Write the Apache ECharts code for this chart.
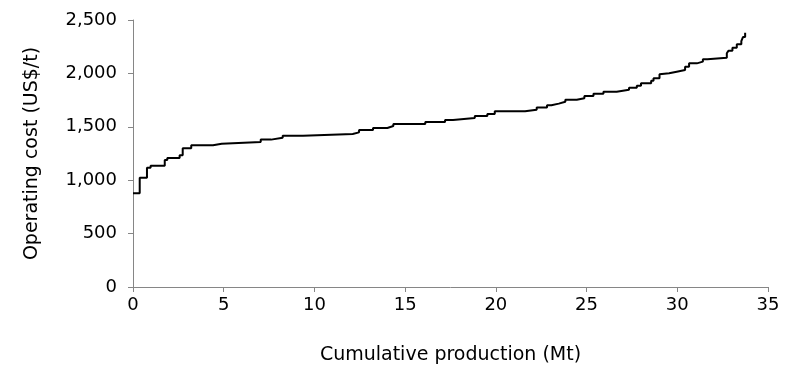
<!DOCTYPE html>
<html>
<head>
<meta charset="utf-8">
<script src="https://cdn.jsdelivr.net/npm/echarts@6/dist/echarts.min.js"></script>
<style>
html,body{margin:0;padding:0;background:#fff;}
#chart{width:797px;height:374px;}
</style>
</head>
<body>
<div id="chart"></div>
<script>
// Cumulative production at the start of each step (Mt)
var production = [0, 0.37, 0.77, 0.97, 1.75, 1.89, 2.57, 2.74, 3.21, 4.41, 4.89, 7.04, 7.61, 8.25, 9.37,
  12.11, 12.46, 13.23, 14.02, 14.35, 16.11, 17.2, 17.64, 18.84, 19.53, 19.94, 21.61, 22.25, 22.82, 23.06,
  23.47, 23.83, 24.46, 24.88, 25.38, 25.93, 26.66, 27.34, 27.77, 28.0, 28.56, 28.69, 29.02, 29.11, 29.55,
  29.97, 30.43, 30.65, 31.08, 31.41, 31.66, 32.73, 32.82, 33.04, 33.28, 33.53, 33.62, 33.74];
// Operating cost of each step (US$/t)
var cost = [877, 1023, 1117, 1136, 1189, 1208, 1233, 1299, 1327, 1342, 1358, 1380, 1398, 1417, 1433,
  1448, 1470, 1489, 1507, 1526, 1545, 1564, 1582, 1601, 1620, 1645, 1660, 1680, 1701, 1717,
  1735, 1754, 1767, 1788, 1810, 1829, 1847, 1866, 1885, 1907, 1932, 1954, 1992, 2001, 2016,
  2032, 2063, 2094, 2110, 2132, 2147, 2188, 2213, 2241, 2272, 2303, 2340, 2380];
var xTicks = [0, 5, 10, 15, 20, 25, 30, 35];
var yTicks = [0, 500, 1000, 1500, 2000, 2500];
var xTitle = 'Cumulative production (Mt)';
var yTitle = 'Operating cost (US$/t)';

var pts = production.map(function (x, i) { return [x, cost[i]]; });
var chart = echarts.init(document.getElementById('chart'), null, {renderer: 'canvas'});
var font = '"DejaVu Sans", Verdana, sans-serif';
chart.setOption({
  animation: false,
  grid: {left: 133, right: 29, top: 20, bottom: 87, containLabel: false},
  xAxis: {
    type: 'value', min: xTicks[0], max: xTicks[xTicks.length - 1], interval: 5,
    name: xTitle, nameLocation: 'middle', nameGap: 59,
    nameTextStyle: {color: '#000', fontSize: 19, fontFamily: font},
    axisLine: {lineStyle: {color: '#868686', width: 1}},
    axisTick: {show: true, length: 5, lineStyle: {color: '#868686'}},
    axisLabel: {color: '#000', fontSize: 18, fontFamily: font, margin: 9,
      formatter: function (v) { return v; }},
    splitLine: {show: false}
  },
  yAxis: {
    type: 'value', min: yTicks[0], max: yTicks[yTicks.length - 1], interval: 500,
    name: yTitle, nameLocation: 'middle', nameGap: 91, nameRotate: 90,
    nameTextStyle: {color: '#000', fontSize: 19, fontFamily: font},
    axisLine: {show: true, lineStyle: {color: '#868686', width: 1}},
    axisTick: {show: true, length: 5, lineStyle: {color: '#868686'}},
    axisLabel: {color: '#000', fontSize: 18, fontFamily: font, margin: 16,
      formatter: function (v) { return v.toLocaleString('en-US'); }},
    splitLine: {show: false}
  },
  series: [{
    type: 'line', step: 'end', data: pts, showSymbol: false, symbol: 'none',
    lineStyle: {color: '#000', width: 2}
  }]
});
</script>
</body>
</html>
